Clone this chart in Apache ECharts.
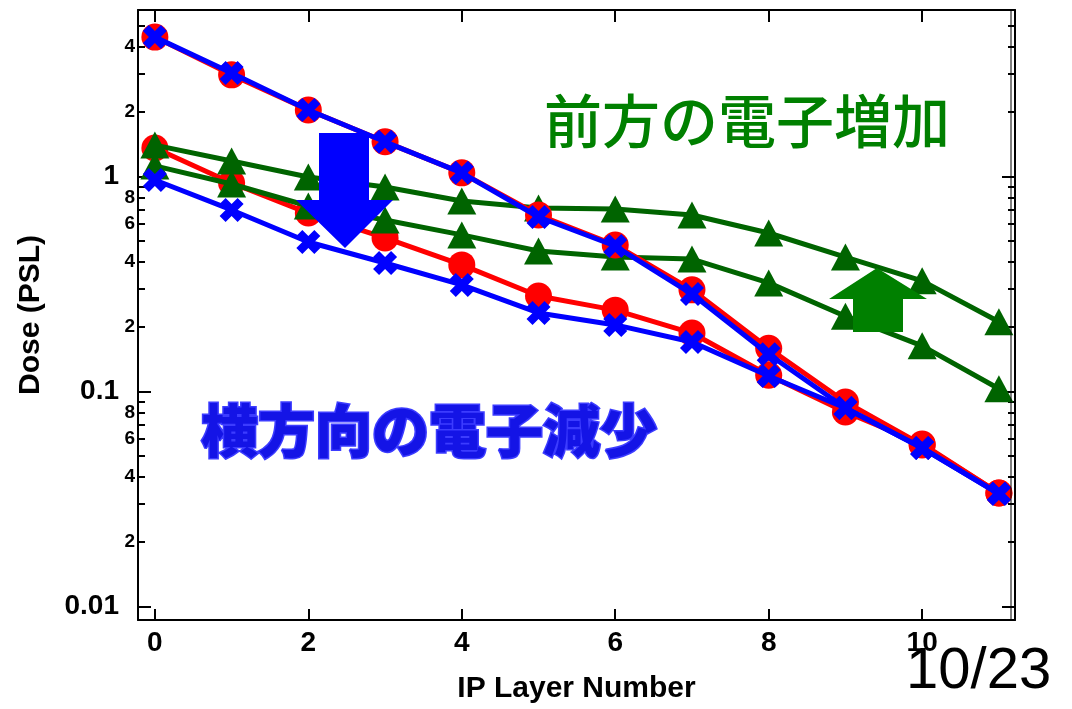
<!DOCTYPE html>
<html>
<head>
<meta charset="utf-8">
<script src="https://cdn.jsdelivr.net/npm/echarts@6/dist/echarts.min.js"></script>
<style>
html,body{margin:0;padding:0;background:#fff;}
#chart{width:1072px;height:709px;}
</style>
</head>
<body>
<div id="chart"></div>
<script>
// ---- data ----
const layers = [0, 1, 2, 3, 4, 5, 6, 7, 8, 9, 10, 11];
const redUpper   = [4.45, 2.97, 2.04, 1.45, 1.04, 0.662, 0.480, 0.297, 0.159, 0.0894, 0.0564, 0.0337];
const blueUpper  = [4.45, 3.03, 2.04, 1.45, 1.04, 0.648, 0.475, 0.284, 0.149, 0.0838, 0.0546, 0.0334];
const redLower   = [1.357, 0.933, 0.676, 0.518, 0.388, 0.278, 0.239, 0.187, 0.119, 0.0803, 0.057, 0.0337];
const blueLower  = [0.963, 0.699, 0.496, 0.396, 0.313, 0.232, 0.204, 0.170, 0.118, 0.0838, 0.0546, 0.0334];
const greenUpper = [1.40, 1.18, 0.995, 0.894, 0.769, 0.714, 0.706, 0.662, 0.546, 0.422, 0.327, 0.211];
const greenLower = [1.12, 0.923, 0.729, 0.628, 0.535, 0.450, 0.422, 0.413, 0.320, 0.224, 0.163, 0.103];

const xTickValues = [0, 2, 4, 6, 8, 10];
const yLabelValues = [0.01, 0.02, 0.04, 0.06, 0.08, 0.1, 0.2, 0.4, 0.6, 0.8, 1, 2, 4];
const yLabelTexts  = ['0.01', '2', '4', '6', '8', '0.1', '2', '4', '6', '8', '1', '2', '4'];
const yLabelMajor  = [true, false, false, false, false, true, false, false, false, false, true, false, false];
const yMajorTicks = [0.01, 0.1, 1];
const yMinorTicks = [0.02, 0.03, 0.04, 0.05, 0.06, 0.07, 0.08, 0.09,
                     0.2, 0.3, 0.4, 0.5, 0.6, 0.7, 0.8, 0.9,
                     2, 3, 4, 5];

const xTitle = 'IP Layer Number';
const yTitle = 'Dose (PSL)';
const noteUp = '前方の電子増加';
const noteDown = '横方向の電子減少';
const pageNo = '10/23';

// ---- chart ----
const chart = echarts.init(document.getElementById('chart'), null, {renderer: 'canvas'});
const pair = (arr) => layers.map((x, i) => [x, arr[i]]);
const Y_MIN = 0.00865, Y_MAX = 5.95;
const X_MIN = -0.22, X_MAX = 11.21;
const crossPath = 'path://M0,5 L5,0 L10,5 L15,0 L20,5 L15,10 L20,15 L15,20 L10,15 L5,20 L0,15 L5,10 Z';
const GRID = {left: 138, right: 57, top: 10, bottom: 89, containLabel: false};

function yLabelFmt(v) {
  let idx = -1, best = 1e9;
  yLabelValues.forEach((lv, i) => {
    const d = Math.abs(Math.log10(lv) - Math.log10(v));
    if (d < best) { best = d; idx = i; }
  });
  return yLabelMajor[idx] ? '{big|' + yLabelTexts[idx] + '}' : '{small|' + yLabelTexts[idx] + '}';
}

const lblFont = "'Liberation Sans', Arial, sans-serif";

function yAxisBase(extra) {
  return Object.assign({
    type: 'log', logBase: 10, min: Y_MIN, max: Y_MAX, offset: 0,
    splitLine: {show: false},
    axisLine: {show: false, onZero: false},
    axisLabel: {show: false},
    axisTick: {show: false},
    minorTick: {show: false}
  }, extra);
}

const series = [];
function lineSeries(name, arr, color, symbol, size, z) {
  series.push({
    name: name, type: 'line', data: pair(arr),
    xAxisIndex: 0, yAxisIndex: 0,
    symbol: symbol, symbolSize: size,
    lineStyle: {color: color, width: 5},
    itemStyle: {color: color},
    z: z, animation: false
  });
}
lineSeries('red lower', redLower, '#ff0000', 'circle', 27, 2);
lineSeries('green lower', greenLower, '#006400', 'triangle', [29, 27], 3);
lineSeries('green upper', greenUpper, '#006400', 'triangle', [29, 27], 4);
lineSeries('red upper', redUpper, '#ff0000', 'circle', 27, 5);
lineSeries('blue upper', blueUpper, '#0000ff', crossPath, 24, 6);
lineSeries('blue lower', blueLower, '#0000ff', crossPath, 24, 7);

const option = {
  backgroundColor: '#ffffff',
  animation: false,
  grid: [Object.assign({}, GRID), Object.assign({}, GRID)],
  xAxis: [
    {
      gridIndex: 0, type: 'value', min: X_MIN, max: X_MAX, position: 'bottom', offset: 0,
      name: xTitle, nameLocation: 'middle', nameGap: 54,
      nameTextStyle: {fontFamily: lblFont, fontWeight: 900, fontSize: 30, color: '#000'},
      splitLine: {show: false},
      axisLine: {show: true, onZero: false, lineStyle: {color: '#000', width: 2}},
      axisTick: {show: true, inside: true, length: 11, lineStyle: {color: '#000', width: 2}, customValues: xTickValues},
      axisLabel: {show: true, margin: 9, fontFamily: lblFont, fontWeight: 'bold', fontSize: 28, color: '#000', customValues: xTickValues}
    },
    {
      gridIndex: 0, type: 'value', min: X_MIN, max: X_MAX, position: 'top', offset: 0,
      splitLine: {show: false},
      axisLine: {show: true, onZero: false, lineStyle: {color: '#000', width: 2}},
      axisTick: {show: true, inside: true, length: 12, lineStyle: {color: '#000', width: 2}, customValues: xTickValues},
      axisLabel: {show: false}
    },
    {
      gridIndex: 1, type: 'value', min: X_MIN, max: X_MAX, show: false,
      axisLine: {show: false, onZero: false}
    }
  ],
  yAxis: [
    yAxisBase({
      gridIndex: 0, position: 'left',
      name: yTitle, nameLocation: 'middle', nameGap: 92, nameRotate: 90,
      nameTextStyle: {fontFamily: lblFont, fontWeight: 900, fontSize: 30, color: '#000'},
      axisLine: {show: true, onZero: false, lineStyle: {color: '#000', width: 2}},
      axisTick: {show: true, inside: true, length: 13, lineStyle: {color: '#000', width: 2}, customValues: yMajorTicks},
      axisLabel: {
        show: true, margin: 3, customValues: yLabelValues, formatter: yLabelFmt,
        rich: {
          big: {fontFamily: lblFont, fontWeight: 'bold', fontSize: 28, color: '#000', padding: [0, 16, 0, 0]},
          small: {fontFamily: lblFont, fontWeight: 'bold', fontSize: 19, color: '#000'}
        }
      }
    }),
    yAxisBase({
      gridIndex: 0, position: 'right',
      axisLine: {show: true, onZero: false, lineStyle: {color: '#000', width: 2}},
      axisTick: {show: true, inside: true, length: 13, lineStyle: {color: '#000', width: 2}, customValues: yMajorTicks}
    }),
    yAxisBase({
      gridIndex: 1, position: 'left',
      axisTick: {show: true, inside: true, length: 7, lineStyle: {color: '#000', width: 2}, customValues: yMinorTicks}
    }),
    yAxisBase({
      gridIndex: 1, position: 'right',
      axisTick: {show: true, inside: true, length: 7, lineStyle: {color: '#000', width: 2}, customValues: yMinorTicks}
    })
  ],
  series: series,
  graphic: [
    {
      type: 'line', z: 40,
      shape: {x1: 1011, y1: 10, x2: 1011, y2: 620},
      style: {stroke: '#000', lineWidth: 1}
    },
    {
      type: 'polygon', z: 50,
      shape: {points: [[319, 133], [369, 133], [369, 200], [393, 200], [345, 248], [296, 200], [319, 200]]},
      style: {fill: '#0000ff'}
    },
    {
      type: 'polygon', z: 50,
      shape: {points: [[853, 332], [903, 332], [903, 299], [927, 299], [877, 268], [829, 299], [853, 299]]},
      style: {fill: '#008000'}
    },
    {
      type: 'text', z: 60, x: 544, y: 121,
      style: {text: noteUp, fill: '#008000', fontSize: 58, fontFamily: "'Noto Sans CJK JP', sans-serif", fontWeight: 500, verticalAlign: 'middle', align: 'left'}
    },
    {
      type: 'text', z: 60, x: 201, y: 430,
      style: {text: noteDown, fill: '#1414e6', stroke: '#3c3cff', lineWidth: 3, fontSize: 57, fontFamily: "'Noto Sans CJK JP', sans-serif", fontWeight: 900, verticalAlign: 'middle', align: 'left'}
    },
    {
      type: 'text', z: 60, x: 906, y: 672,
      style: {text: pageNo, fill: '#000', fontSize: 58, fontFamily: lblFont, fontWeight: 'normal', verticalAlign: 'middle', align: 'left'}
    }
  ]
};
chart.setOption(option);
</script>
</body>
</html>
